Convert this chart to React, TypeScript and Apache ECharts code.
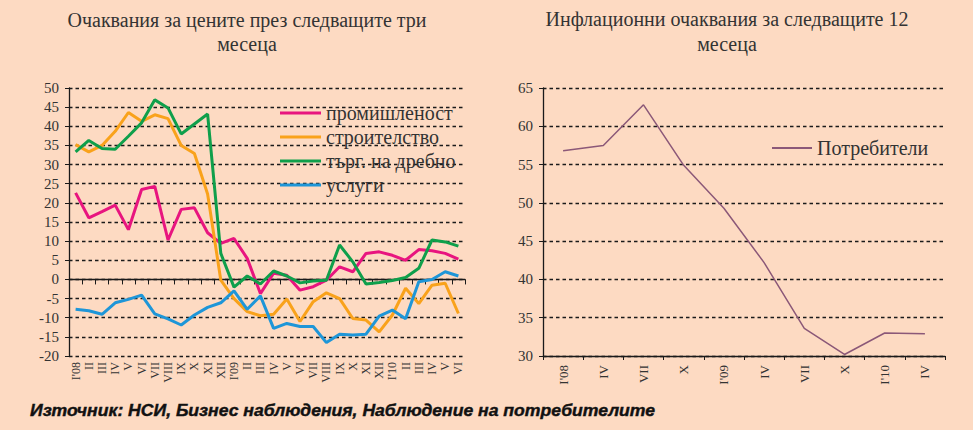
import React, { useEffect, useRef } from 'react';
import * as echarts from 'echarts';

const BG = '#FDDAC2';
const SERIF = 'Liberation Serif';
const INK = '#1a1a1a';

const monthCats = ["I'08", 'II', 'III', 'IV', 'V', 'VI', 'VII', 'VIII', 'IX', 'X', 'XI', 'XII',
  "I'09", 'II', 'III', 'IV', 'V', 'VI', 'VII', 'VIII', 'IX', 'X', 'XI', 'XII',
  "I'10", 'II', 'III', 'IV', 'V', 'VI'];

const industry = [22.6, 16.1, 17.7, 19.4, 13.0, 23.5, 24.3, 10.3, 18.3, 18.7, 12.2, 9.4,
  10.7, 5.5, -3.7, 1.6, 1.1, -2.8, -1.9, -0.2, 3.3, 2.0, 6.8, 7.2,
  6.3, 5.0, 7.8, 7.5, 6.8, 5.3];
const construction = [35.2, 33.3, 35.0, 38.7, 43.6, 41.3, 43.0, 42.0, 35.0, 32.9, 22.3, -0.2,
  -5.0, -8.4, -9.5, -9.1, -5.1, -11.0, -5.8, -3.5, -5.0, -10.2, -10.6, -13.7,
  -9.3, -2.3, -6.3, -1.5, -1.0, -8.9];
const retail = [33.3, 36.3, 34.2, 34.0, 37.4, 40.9, 46.9, 44.8, 38.0, 40.6, 43.2, 6.8,
  -2.0, 0.9, -1.2, 2.2, 0.9, -0.9, -0.4, -0.2, 9.0, 4.6, -1.2, -0.8,
  -0.3, 0.5, 2.9, 10.3, 9.8, 8.7];
const services = [-7.8, -8.2, -9.1, -6.1, -5.2, -4.1, -9.0, -10.3, -11.9, -9.3, -7.3, -6.1,
  -3.0, -7.8, -4.3, -12.8, -11.5, -12.3, -12.3, -16.5, -14.3, -14.5, -14.3, -9.6,
  -8.0, -10.3, -0.6, 0.0, 2.0, 0.9];

const quarterCats = ["I'08", 'IV', 'VII', 'X', "I'09", 'IV', 'VII', 'X', "I'10", 'IV'];
const consumers = [56.8, 57.5, 62.8, 54.9, 49.3, 42.2, 33.6, 30.2, 33.0, 32.9];

const leftNames = ['промишленост', 'строителство', 'търг. на дребно', 'услуги'];
const leftColors = ['#E8157F', '#F9A21B', '#0F9F4B', '#1E96D8'];
const leftData = [industry, construction, retail, services];

const leftTitle = 'Очаквания за цените през следващите три\nмесеца';
const rightTitle = 'Инфлационни очаквания за следващите 12\nмесеца';
const footer = 'Източник: НСИ, Бизнес наблюдения, Наблюдение на потребителите';

const splitLine = { show: true, lineStyle: { color: INK, type: [3.5, 3], width: 1.4 } };
const valueLabel = { margin: 10, fontFamily: SERIF, fontSize: 15, color: '#333' };

export default function App() {
  const ref = useRef<HTMLDivElement>(null);
  useEffect(() => {
    document.body.style.margin = '0';
    document.body.style.background = BG;
    const chart = echarts.init(ref.current!, null, { renderer: 'svg' });
    const option: any = {
      animation: false,
      backgroundColor: BG,
      graphic: [
        { type: 'text', x: 247, y: 8, style: { text: leftTitle, fontFamily: SERIF, fontSize: 20, lineHeight: 24, fill: '#333', textAlign: 'center', textVerticalAlign: 'top' } },
        { type: 'text', x: 727, y: 6, style: { text: rightTitle, fontFamily: SERIF, fontSize: 20, lineHeight: 25, fill: '#333', textAlign: 'center', textVerticalAlign: 'top' } },
        { type: 'text', x: 30, y: 411, scaleX: 1.1, style: { text: footer, fontFamily: 'Liberation Sans', fontWeight: 'bold', fontStyle: 'italic', fontSize: 16, fill: '#111', textAlign: 'left', textVerticalAlign: 'middle', stroke: '#111', lineWidth: 0.4 } },
      ],
      legend: [
        {
          data: leftNames, orient: 'vertical', left: 275, top: 98, itemWidth: 41, itemHeight: 3, itemGap: 4,
          icon: 'rect',
          textStyle: { fontFamily: SERIF, fontSize: 20, color: '#333', lineHeight: 20 },
        },
        {
          data: ['Потребители'], left: 767, top: 133, itemWidth: 40, itemHeight: 2, icon: 'rect',
          textStyle: { fontFamily: SERIF, fontSize: 20, color: '#333' },
        },
      ],
      grid: [
        { left: 69, top: 88, width: 396, height: 268 },
        { left: 543, top: 88, width: 402, height: 268 },
      ],
      xAxis: [
        {
          gridIndex: 0, type: 'category', data: monthCats, position: 'bottom',
          axisLine: { show: false, onZero: false }, axisTick: { show: false }, splitLine: { show: false },
          axisLabel: { rotate: 90, interval: 0, margin: 6, fontFamily: SERIF, fontSize: 12, color: '#333' },
        },
        {
          gridIndex: 0, type: 'category', data: monthCats, position: 'top',
          axisLine: { show: true, onZero: true, lineStyle: { color: INK, width: 1.3 } },
          axisTick: { show: true, inside: true, length: 5, interval: 0, lineStyle: { color: INK } },
          axisLabel: { show: false }, splitLine: { show: false },
        },
        {
          gridIndex: 1, type: 'category', data: quarterCats, position: 'bottom',
          axisLine: { show: true, lineStyle: { color: INK, width: 1.3 } },
          axisTick: { show: true, length: 4, interval: 0, lineStyle: { color: INK } },
          axisLabel: { rotate: 90, interval: 0, margin: 9, fontFamily: SERIF, fontSize: 13, color: '#333' },
          splitLine: { show: false },
        },
      ],
      yAxis: [
        {
          gridIndex: 0, type: 'value', min: -20, max: 50, interval: 5,
          axisLine: { show: true, lineStyle: { color: INK, width: 1.3 } },
          axisTick: { show: true, length: 4, lineStyle: { color: INK } },
          axisLabel: valueLabel, splitLine,
        },
        {
          gridIndex: 1, type: 'value', min: 30, max: 65, interval: 5,
          axisLine: { show: true, lineStyle: { color: INK, width: 1.3 } },
          axisTick: { show: true, length: 4, lineStyle: { color: INK } },
          axisLabel: valueLabel, splitLine,
        },
      ],
      series: [
        ...leftNames.map((name, i) => ({
          name, type: 'line', xAxisIndex: 0, yAxisIndex: 0, data: leftData[i],
          symbol: 'none', color: leftColors[i], lineStyle: { width: 3, color: leftColors[i] },
        })),
        {
          name: 'Потребители', type: 'line', xAxisIndex: 2, yAxisIndex: 1, data: consumers,
          symbol: 'none', color: '#8B5878', lineStyle: { width: 1.5, color: '#8B5878' },
        },
      ],
    };
    chart.setOption(option);
    return () => chart.dispose();
  }, []);
  return <div ref={ref} style={{ width: 973, height: 430, background: BG }} />;
}
